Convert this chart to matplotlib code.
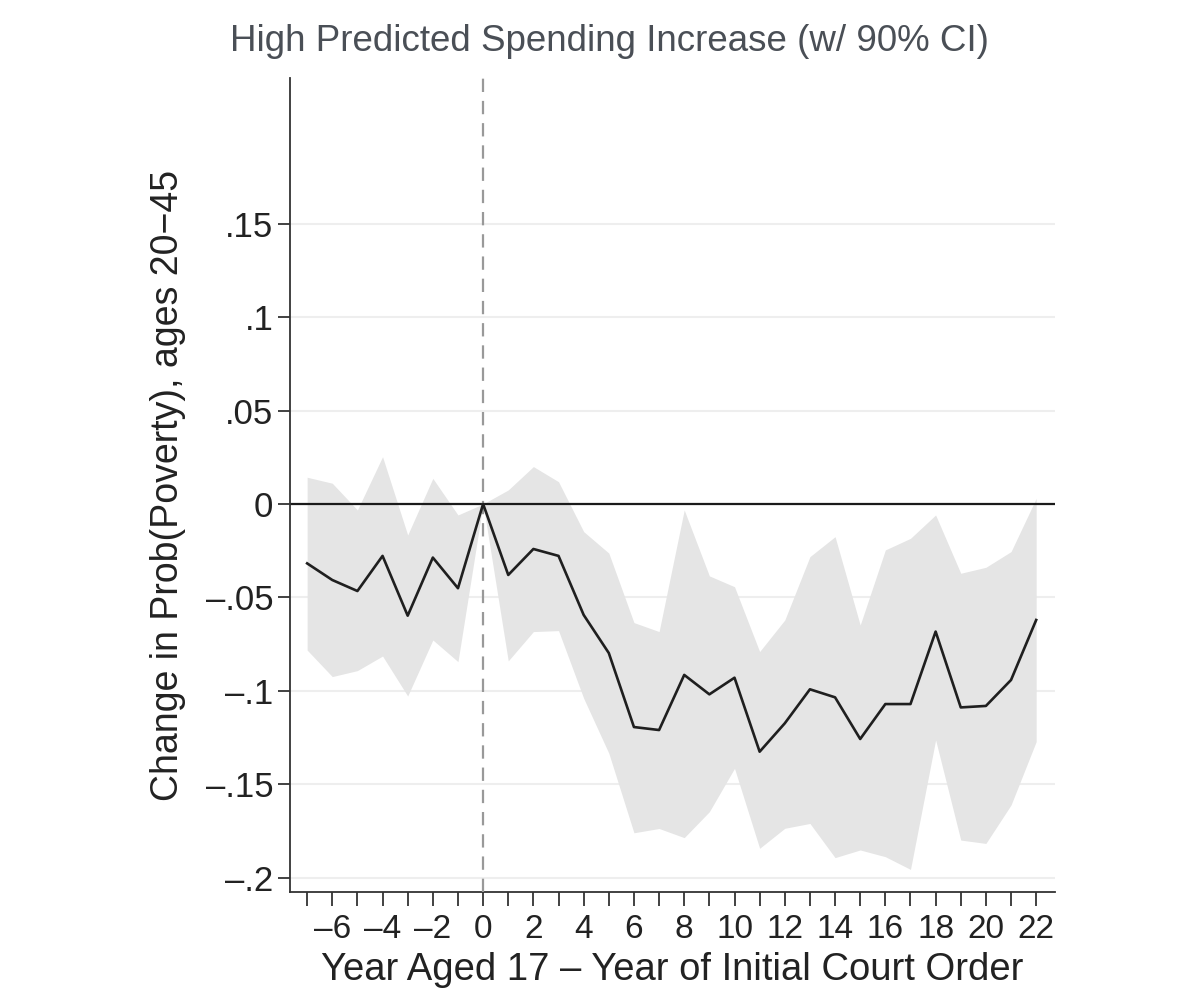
import matplotlib
matplotlib.use("Agg")
import matplotlib.pyplot as plt
import numpy as np

# event time relative to initial court order
years = list(range(-7, 23))
estimate = [
    -0.0318, -0.0407, -0.0466, -0.0278, -0.0598, -0.0287, -0.0451, 0.0,
    -0.0380, -0.0241, -0.0278, -0.0594, -0.0798, -0.1194, -0.1210, -0.0915,
    -0.1019, -0.0930, -0.1326, -0.1174, -0.0992, -0.1035, -0.1258, -0.1071,
    -0.1071, -0.0683, -0.1089, -0.1081, -0.0942, -0.0621,
]
ci_upper = [
    0.0143, 0.0111, -0.0032, 0.0253, -0.0166, 0.0137, -0.0059, 0.0,
    0.0075, 0.0200, 0.0119, -0.0148, -0.0263, -0.0635, -0.0683, -0.0032,
    -0.0385, -0.0443, -0.0790, -0.0621, -0.0282, -0.0175, -0.0648, -0.0246,
    -0.0184, -0.0059, -0.0371, -0.0339, -0.0255, 0.0030,
]
ci_lower = [
    -0.0782, -0.0924, -0.0892, -0.0814, -0.1028, -0.0728, -0.0844, 0.0,
    -0.0840, -0.0683, -0.0678, -0.1040, -0.1334, -0.1760, -0.1737, -0.1786,
    -0.1647, -0.1415, -0.1843, -0.1736, -0.1710, -0.1893, -0.1852, -0.1888,
    -0.1956, -0.1263, -0.1799, -0.1817, -0.1611, -0.1272,
]
y_ticks = [-0.2, -0.15, -0.1, -0.05, 0, 0.05, 0.1, 0.15]
y_tick_labels = ["\u2013.2", "\u2013.15", "\u2013.1", "\u2013.05", "0", ".05", ".1", ".15"]
x_tick_labels = [(str(v).replace("-", "\u2013") if v % 2 == 0 else "") for v in years]

plt.rcParams["font.family"] = ["Liberation Sans", "DejaVu Sans"]

fig = plt.figure(figsize=(12, 9.97), dpi=100)
ax = fig.add_axes([0.2417, 0.1053, 0.6375, 0.8165])

x = np.array(years)
ax.fill_between(x, ci_lower, ci_upper, color="#e5e5e5", linewidth=0, zorder=1)
ax.axhline(0, color="#1a1a1a", linewidth=1.6, zorder=2)
ax.axvline(0, color="#999999", linewidth=1.6, linestyle=(0, (6, 4)), zorder=3)
ax.plot(x, estimate, color="#1f1f1f", linewidth=1.9, zorder=4)

ax.set_xlim(-7.68, 22.75)
ax.set_ylim(-0.2077, 0.228)

ax.set_yticks(y_ticks)
ax.set_yticklabels(y_tick_labels, fontsize=25, color="#222222")
ax.set_xticks(years)
ax.set_xticklabels(x_tick_labels, fontsize=24, color="#222222")
ax.tick_params(axis="x", length=10, width=1.3, color="#333333", pad=6)
ax.tick_params(axis="y", length=9, width=1.3, color="#333333", pad=3)

ax.grid(axis="y", color="#eeeeee", linewidth=1.5, zorder=0)
ax.set_axisbelow(True)
for side in ("top", "right"):
    ax.spines[side].set_visible(False)
for side in ("left", "bottom"):
    ax.spines[side].set_linewidth(1.3)
    ax.spines[side].set_color("#333333")

ax.set_xlabel("Year Aged 17 \u2013 Year of Initial Court Order",
              fontsize=27.5, color="#222222", labelpad=5)
ax.set_ylabel("Change in Prob(Poverty), ages 20\u221245",
              fontsize=27, color="#222222", labelpad=14)
fig.text(0.508, 0.958, "High Predicted Spending Increase (w/ 90% CI)",
         ha="center", va="center", fontsize=26.5, color="#4a4f56")

fig.savefig("out.png", dpi=100)
